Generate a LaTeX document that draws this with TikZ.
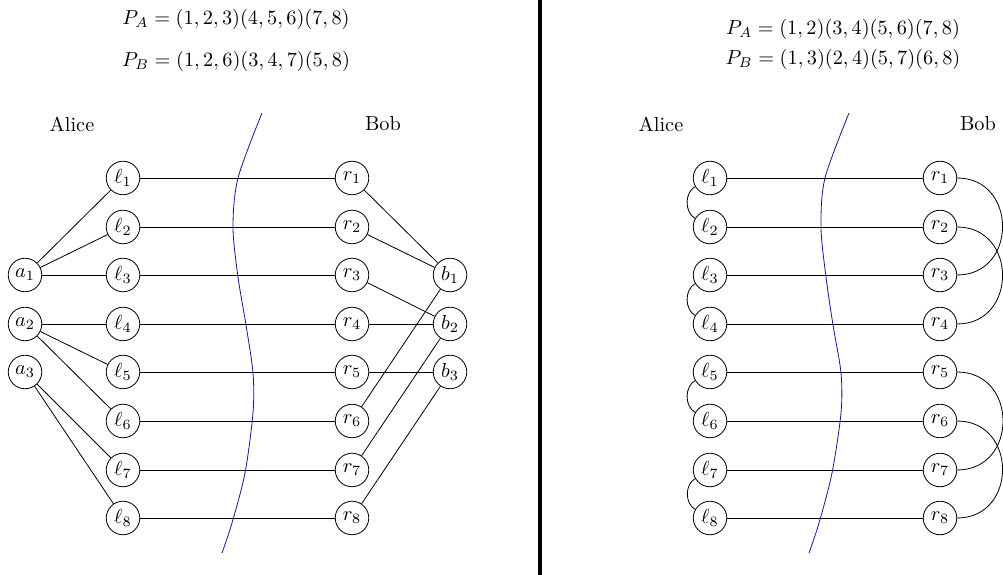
\documentclass[tikz,border=0pt]{standalone}
\usepackage{amsmath,amssymb}
\usepackage{xcolor}
\usepackage{tikz}
\usetikzlibrary{positioning}

\definecolor{cutblue}{RGB}{25,25,150}

\begin{document}
\begin{tikzpicture}[-,auto,x=0.173cm,y=-0.173cm,party/.style={circle,draw,inner sep=1pt,minimum size=16.5pt},cut/.style={cutblue,thin}]

	\useasboundingbox (0,0) rectangle (100.3,57.5);

	% Left half: the two partitions
	\node at (23.6,1.9) (PA) {$P_A = (1,2,3)(4,5,6)(7,8)$};
	\node at (23.6,6.1) (PB) {$P_B = (1,2,6)(3,4,7)(5,8)$};
	\node at (7.2,12.4) (alice) {Alice};
	\node at (38.3,12.4) (bob) {Bob};

	\node [party] at (2.5,27.5) (a1) {$a_1$};
	\node [party] at (2.5,32.4) (a2) {$a_2$};
	\node [party] at (2.5,37.2) (a3) {$a_3$};

	\node [party] at (12.3,17.8) (l1) {$\ell_1$};
	\node [party] at (12.3,22.7) (l2) {$\ell_2$};
	\node [party] at (12.3,27.5) (l3) {$\ell_3$};
	\node [party] at (12.3,32.4) (l4) {$\ell_4$};
	\node [party] at (12.3,37.2) (l5) {$\ell_5$};
	\node [party] at (12.3,42.1) (l6) {$\ell_6$};
	\node [party] at (12.3,47.0) (l7) {$\ell_7$};
	\node [party] at (12.3,51.8) (l8) {$\ell_8$};

	\node [party] at (35.2,17.8) (r1) {$r_1$};
	\node [party] at (35.2,22.7) (r2) {$r_2$};
	\node [party] at (35.2,27.5) (r3) {$r_3$};
	\node [party] at (35.2,32.4) (r4) {$r_4$};
	\node [party] at (35.2,37.2) (r5) {$r_5$};
	\node [party] at (35.2,42.1) (r6) {$r_6$};
	\node [party] at (35.2,47.0) (r7) {$r_7$};
	\node [party] at (35.2,51.8) (r8) {$r_8$};

	\node [party] at (45.0,27.5) (b1) {$b_1$};
	\node [party] at (45.0,32.4) (b2) {$b_2$};
	\node [party] at (45.0,37.2) (b3) {$b_3$};

	% Edges
	\path
	(a1) edge (l1)
	(a1) edge (l2)
	(a1) edge (l3)
	(a2) edge (l4)
	(a2) edge (l5)
	(a2) edge (l6)
	(a3) edge (l7)
	(a3) edge (l8);

	\path
	(l1) edge (r1)
	(l2) edge (r2)
	(l3) edge (r3)
	(l4) edge (r4)
	(l5) edge (r5)
	(l6) edge (r6)
	(l7) edge (r7)
	(l8) edge (r8);

	\path
	(r1) edge (b1)
	(r2) edge (b1)
	(r6) edge (b1)
	(r3) edge (b2)
	(r4) edge (b2)
	(r7) edge (b2)
	(r5) edge (b3)
	(r8) edge (b3);

	% The cut
	\draw[cut] plot[smooth] coordinates {(26.2,11.3) (23.8,17.8) (23.3,22.7) (23.8,27.7) (24.6,32.5) (25.3,37.3) (25.3,41.3) (24.5,47.3) (23.2,52.3) (22.2,55.3)};

	% Divider
	\coordinate (top) at (54.0,0);
	\coordinate (bottom) at (54.0,57.5);
	\draw[line width=1.5pt] (top) -- (bottom);

	% Right half: pairings
	\node at (84.3,2.9) (QA) {$P_A = (1,2)(3,4)(5,6)(7,8)$};
	\node at (84.3,5.9) (QB) {$P_B = (1,3)(2,4)(5,7)(6,8)$};
	\node at (66.1,12.4) (alice2) {Alice};
	\node at (97.8,12.4) (bob2) {Bob};

	\node [party] at (71.0,17.8) (m1) {$\ell_1$};
	\node [party] at (71.0,22.7) (m2) {$\ell_2$};
	\node [party] at (71.0,27.5) (m3) {$\ell_3$};
	\node [party] at (71.0,32.4) (m4) {$\ell_4$};
	\node [party] at (71.0,37.2) (m5) {$\ell_5$};
	\node [party] at (71.0,42.1) (m6) {$\ell_6$};
	\node [party] at (71.0,47.0) (m7) {$\ell_7$};
	\node [party] at (71.0,51.8) (m8) {$\ell_8$};

	\node [party] at (94.0,17.8) (s1) {$r_1$};
	\node [party] at (94.0,22.7) (s2) {$r_2$};
	\node [party] at (94.0,27.5) (s3) {$r_3$};
	\node [party] at (94.0,32.4) (s4) {$r_4$};
	\node [party] at (94.0,37.2) (s5) {$r_5$};
	\node [party] at (94.0,42.1) (s6) {$r_6$};
	\node [party] at (94.0,47.0) (s7) {$r_7$};
	\node [party] at (94.0,51.8) (s8) {$r_8$};

	\path
	(m1) edge (s1)
	(m2) edge (s2)
	(m3) edge (s3)
	(m4) edge (s4)
	(m5) edge (s5)
	(m6) edge (s6)
	(m7) edge (s7)
	(m8) edge (s8);

	\path
	(m1) edge[bend right=60] (m2)
	(m3) edge[bend right=60] (m4)
	(m5) edge[bend right=60] (m6)
	(m7) edge[bend right=60] (m8);

	\path
	(s1.east) edge[out=0,in=0,looseness=1.6] (s3.east)
	(s2.east) edge[out=0,in=0,looseness=1.6] (s4.east)
	(s5.east) edge[out=0,in=0,looseness=1.6] (s7.east)
	(s6.east) edge[out=0,in=0,looseness=1.6] (s8.east);

	\draw[cut] plot[smooth] coordinates {(84.9,11.3) (82.5,17.8) (82.1,22.7) (82.6,27.7) (83.3,32.5) (84.1,37.3) (84.1,41.3) (83.2,47.3) (81.9,52.3) (80.9,55.3)};

\end{tikzpicture}
\end{document}
